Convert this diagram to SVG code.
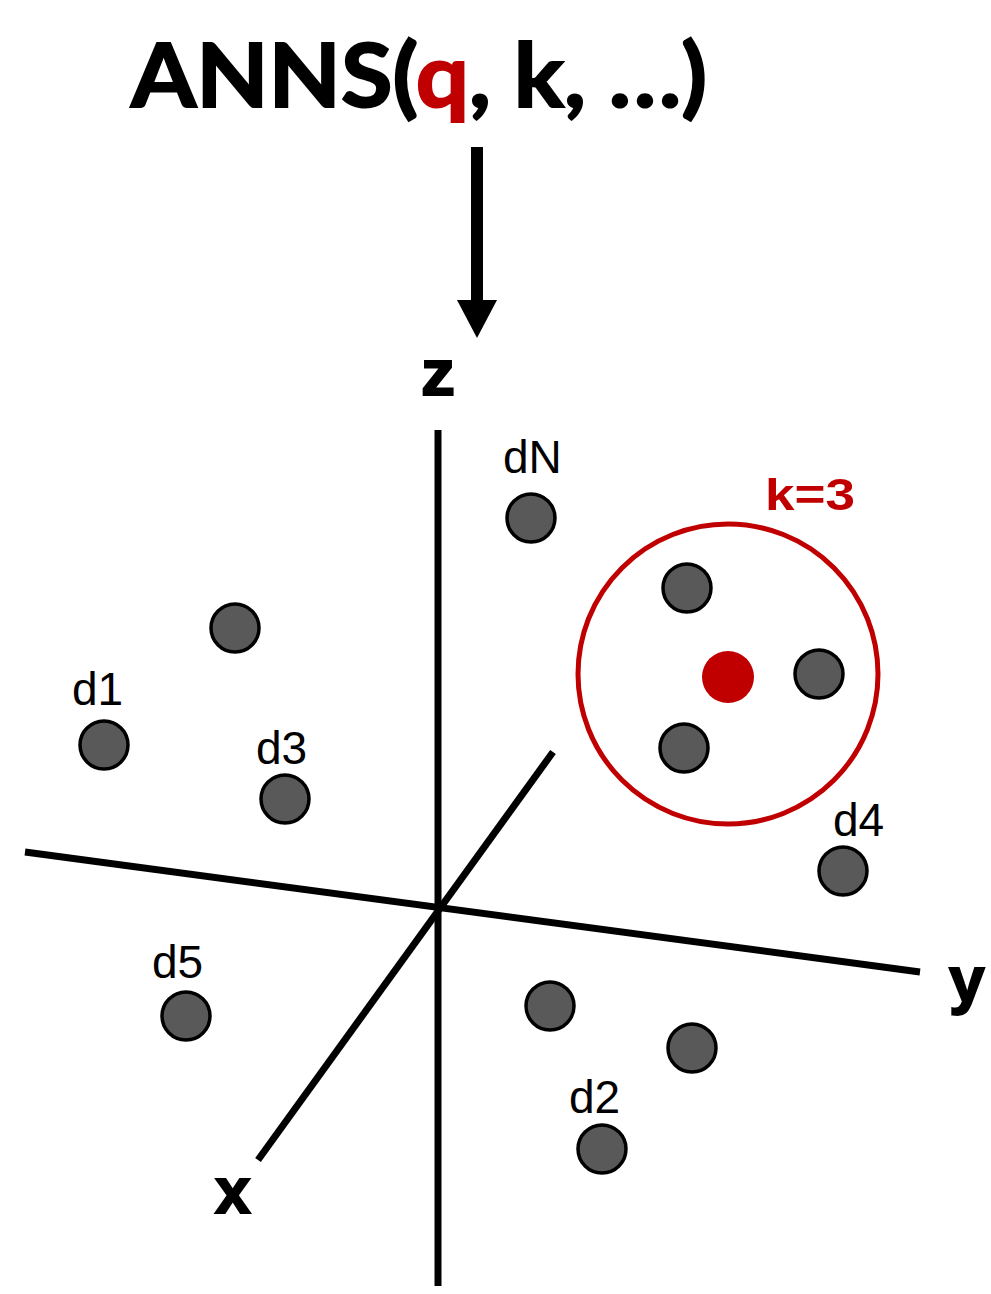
<svg xmlns="http://www.w3.org/2000/svg" width="991" height="1294" viewBox="0 0 991 1294">
<style>
.pt{fill:#595959;stroke:#000;stroke-width:3.5}
.lbl{font-family:"Liberation Sans",Arial,sans-serif;font-size:46px;fill:#000}
.ax{stroke:#000;stroke-width:7;stroke-linecap:butt;fill:none}
.axl{font-family:"Liberation Sans",Arial,sans-serif;font-weight:bold;font-size:64px;fill:#000;stroke:#000;stroke-width:2}
</style>
<rect width="991" height="1294" fill="#fff"/>
<g id="title">
<text x="131" y="107" font-family="Lato,'Open Sans',sans-serif" font-weight="bold" font-size="88" stroke="#000" stroke-width="2" textLength="576" lengthAdjust="spacingAndGlyphs">ANNS(<tspan fill="#c00000" stroke="#c00000">q</tspan>, k, …)</text>
</g>
<g id="connectors">
<rect x="471" y="147" width="12" height="156"/>
<polygon points="457,300 497,300 477,338"/>
<line class="ax" x1="438" y1="430" x2="438" y2="1286"/>
<line class="ax" x1="25" y1="852" x2="920" y2="972"/>
<line class="ax" x1="553" y1="752" x2="258" y2="1160"/>
</g>
<g id="axis-labels">
<text class="axl" x="421" y="395" textLength="34" lengthAdjust="spacingAndGlyphs">z</text>
<text class="axl" x="949" y="1002">y</text>
<text class="axl" x="215" y="1213">x</text>
</g>
<g id="query-region">
<circle cx="728" cy="674" r="150" fill="none" stroke="#c00000" stroke-width="5"/>
<text x="765" y="510" font-family="'Liberation Sans',Arial,sans-serif" font-weight="bold" font-size="45" fill="#c00000" textLength="90" lengthAdjust="spacingAndGlyphs">k=3</text>
</g>
<g id="nn1"><circle class="pt" cx="687" cy="588" r="24"/></g>
<g id="nn2"><circle class="pt" cx="819" cy="674" r="24"/></g>
<g id="nn3"><circle class="pt" cx="684" cy="748" r="24"/></g>
<g id="q"><circle cx="728" cy="677" r="26" fill="#c00000"/></g>
<g id="dN"><text class="lbl" x="503" y="473">dN</text><circle class="pt" cx="531" cy="518" r="24"/></g>
<g id="p1"><circle class="pt" cx="235" cy="628" r="24"/></g>
<g id="d1"><text class="lbl" x="72" y="705">d1</text><circle class="pt" cx="104" cy="745" r="24"/></g>
<g id="d3"><text class="lbl" x="256" y="764">d3</text><circle class="pt" cx="285" cy="799" r="24"/></g>
<g id="d4"><text class="lbl" x="833" y="836">d4</text><circle class="pt" cx="843" cy="871" r="24"/></g>
<g id="d5"><text class="lbl" x="152" y="978">d5</text><circle class="pt" cx="186" cy="1016" r="24"/></g>
<g id="p2"><circle class="pt" cx="550" cy="1006" r="24"/></g>
<g id="p3"><circle class="pt" cx="692" cy="1048" r="24"/></g>
<g id="d2"><text class="lbl" x="569" y="1113">d2</text><circle class="pt" cx="602" cy="1149" r="24"/></g>
</svg>
